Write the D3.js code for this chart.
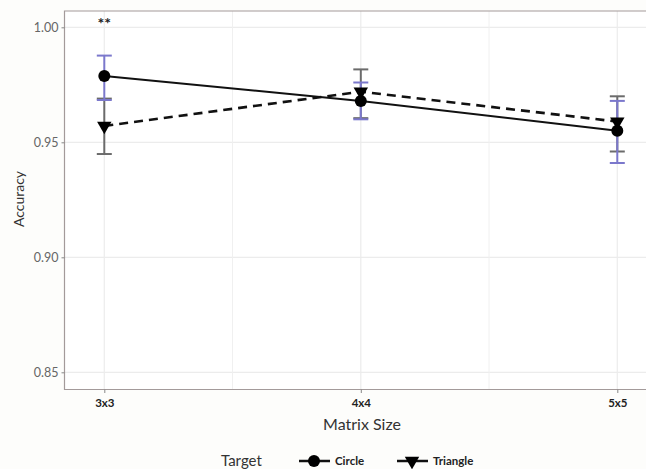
<!DOCTYPE html>
<html><head><meta charset="utf-8">
<script src="https://cdn.jsdelivr.net/npm/d3@7/dist/d3.min.js"></script>
<style>body{margin:0;background:#fdfdfb;}svg{display:block;}</style>
</head><body>
<script>
const categories = ["3x3","4x4","5x5"];
const circleMean = [0.9788, 0.968, 0.955];
const circleLow  = [0.9684, 0.960, 0.941];
const circleHigh = [0.9877, 0.976, 0.968];
const triMean = [0.9571, 0.972, 0.959];
const triLow  = [0.9449, 0.9605, 0.946];
const triHigh = [0.9690, 0.9817, 0.970];
const yTicks = [0.85, 0.90, 0.95, 1.00];
const annotation = "**";

(function(){
const W = 646, H = 469;
const svg = d3.select("body").append("svg").attr("width", W).attr("height", H);
svg.append("rect").attr("width", W).attr("height", H).attr("fill", "#fdfdfb");

const pL = 64.5, pT = 11, pB = 389.5;
const x = d3.scalePoint().domain(categories).range([104.3, 617.3]);
const step = x.step();
const pR = 617.3 + 40;
const y = d3.scaleLinear().domain([0.85, 1.0]).range([372.3, 27.3]);

const font = "Lato, 'DejaVu Sans', sans-serif";

svg.append("rect").attr("x", pL).attr("y", pT).attr("width", pR - pL).attr("height", pB - pT).attr("fill", "#fff");
const g = svg.append("g");
yTicks.forEach(t => g.append("line").attr("x1", pL).attr("x2", pR).attr("y1", y(t)).attr("y2", y(t)).attr("stroke", "#ececec").attr("stroke-width", 1.2));
categories.forEach((c, i) => {
  g.append("line").attr("x1", x(c)).attr("x2", x(c)).attr("y1", pT).attr("y2", pB).attr("stroke", "#ececec").attr("stroke-width", 1.2);
  if (i < categories.length - 1) {
    const mx = x(c) + step / 2;
    g.append("line").attr("x1", mx).attr("x2", mx).attr("y1", pT).attr("y2", pB).attr("stroke", "#f0f0f0").attr("stroke-width", 1);
  }
});
svg.append("path").attr("d", `M${pR},${pT}H${pL}V${pB}H${pR}`).attr("fill", "none").attr("stroke", "#a39a9a").attr("stroke-width", 1.2);

const yAxis = d3.axisLeft(y).tickValues(yTicks).tickFormat(d3.format(".2f")).tickSize(3).tickPadding(3);
const ya = svg.append("g").attr("transform", `translate(${pL},0)`).call(yAxis);
ya.select(".domain").remove();
ya.selectAll("line").attr("stroke", "#888");
ya.selectAll("text").attr("fill", "#666").style("font-family", font).style("font-size", "12.5px");

const xAxis = d3.axisBottom(x).tickSize(3.5).tickPadding(6);
const xa = svg.append("g").attr("transform", `translate(0,${pB})`).call(xAxis);
xa.select(".domain").remove();
xa.selectAll("line").attr("stroke", "#888");
xa.selectAll("text").attr("fill", "#222").style("font-family", font).style("font-size", "11.5px").style("font-weight", "bold");

svg.append("text").attr("x", 362).attr("y", 430).attr("text-anchor", "middle").attr("fill", "#333").style("font-family", font).style("font-size", "16px").text("Matrix Size");
svg.append("text").attr("transform", "translate(24,199) rotate(-90)").attr("text-anchor", "middle").attr("fill", "#333").style("font-family", font).style("font-size", "14px").text("Accuracy");

const cap = 7.5;
function errbars(low, high, color) {
  categories.forEach((c, i) => {
    const cx = x(c);
    g.append("line").attr("x1", cx).attr("x2", cx).attr("y1", y(low[i])).attr("y2", y(high[i])).attr("stroke", color).attr("stroke-width", 2);
    [low[i], high[i]].forEach(v => g.append("line").attr("x1", cx - cap).attr("x2", cx + cap).attr("y1", y(v)).attr("y2", y(v)).attr("stroke", color).attr("stroke-width", 2));
  });
}
errbars(triLow, triHigh, "#6b6b6b");
errbars(circleLow, circleHigh, "#7b78cc");

const line = d3.line().x((d, i) => x(categories[i])).y(d => y(d));
g.append("path").datum(triMean).attr("d", line).attr("fill", "none").attr("stroke", "#111").attr("stroke-width", 2.6).attr("stroke-dasharray", "9,6");
g.append("path").datum(circleMean).attr("d", line).attr("fill", "none").attr("stroke", "#111").attr("stroke-width", 2);

const triSym = d3.symbol().type(d3.symbolTriangle).size(90);
triMean.forEach((v, i) => g.append("path").attr("d", triSym()).attr("transform", `translate(${x(categories[i])},${y(v)}) rotate(180)`).attr("fill", "#000"));
circleMean.forEach((v, i) => g.append("circle").attr("cx", x(categories[i])).attr("cy", y(v)).attr("r", 6).attr("fill", "#000"));

svg.append("text").attr("x", x(categories[0])).attr("y", 29).attr("text-anchor", "middle").attr("fill", "#222").style("font-family", font).style("font-size", "16px").style("font-weight", "bold").text(annotation);

const ly = 461;
svg.append("text").attr("x", 221).attr("y", ly + 5).attr("fill", "#333").style("font-family", font).style("font-size", "15px").text("Target");
svg.append("line").attr("x1", 299).attr("x2", 330).attr("y1", ly).attr("y2", ly).attr("stroke", "#111").attr("stroke-width", 2.5);
svg.append("circle").attr("cx", 314).attr("cy", ly).attr("r", 6).attr("fill", "#000");
svg.append("text").attr("x", 335).attr("y", ly + 4).attr("fill", "#222").style("font-family", font).style("font-size", "11.5px").style("font-weight", "bold").text("Circle");
svg.append("line").attr("x1", 397).attr("x2", 428).attr("y1", ly).attr("y2", ly).attr("stroke", "#111").attr("stroke-width", 2.5);
svg.append("path").attr("d", triSym()).attr("transform", `translate(412,${ly}) rotate(180)`).attr("fill", "#000");
svg.append("text").attr("x", 433).attr("y", ly + 4).attr("fill", "#222").style("font-family", font).style("font-size", "11.5px").style("font-weight", "bold").text("Triangle");
})();
</script>
</body></html>
